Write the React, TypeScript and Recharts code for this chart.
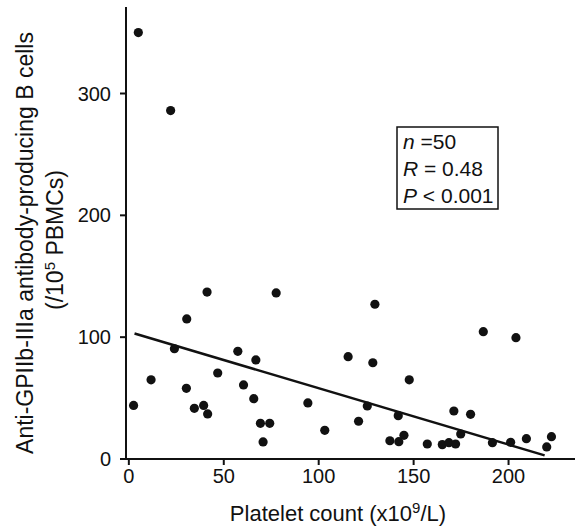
import React from "react";
import { ComposedChart, Scatter, XAxis, YAxis } from "recharts";

// platelet count (x10^9/L) and anti-GPIIb-IIIa B cells per 10^5 PBMCs
const plateletCount = [
  5, 22, 2.5, 11.7, 24, 30.5, 30.3, 34.5, 39.4, 41.5, 41.2, 46.8, 57.4, 60.4,
  66.9, 65.8, 69.3, 74.2, 70.7, 77.6, 94.3, 103.2, 115.5, 129.6, 128.5, 147.7,
  125.6, 121, 141.9, 137.5, 142.2, 144.9, 157.2, 165.1, 168.6, 172.1, 171.2,
  174.8, 180, 186.7, 203.9, 191.5, 201.1, 209.4, 220.1, 222.6,
];
const bCells = [
  350, 286, 44, 65, 90.5, 115, 58, 41.6, 44, 37, 137, 70.6, 88.4, 60.8, 81.3,
  49.5, 29.3, 29.3, 14, 136.3, 46, 23.5, 84, 127, 79, 65, 43.5, 31, 35.6, 15,
  14.2, 19.4, 12.3, 11.8, 13.4, 12.3, 39.4, 20.5, 36.7, 104.5, 99.6, 13.4,
  13.7, 16.7, 9.9, 18.3,
];

// regression line end points
const fitX = [3, 219];
const fitY = [103, 3];

const xTicks = [0, 50, 100, 150, 200];
const yTicks = [0, 100, 200, 300];

const points = plateletCount.map((x, i) => ({ x, y: bCells[i] }));
const fitLine = fitX.map((x, i) => ({ x, y: fitY[i] }));

const font = "'Liberation Sans', Arial, sans-serif";
const ink = "#111";
const tickStyle = { fill: ink, fontSize: 20, fontFamily: font };

const Dot = (props: any) => (
  <circle cx={props.cx} cy={props.cy} r={4.6} fill={ink} />
);

export default function App() {
  return (
    <div style={{ position: "absolute", left: 0, top: 0, width: 575, height: 529, background: "#fff" }}>
      <ComposedChart
        width={575}
        height={529}
        margin={{ top: 7, right: 0, left: 66, bottom: 10 }}
      >
        <XAxis
          type="number"
          dataKey="x"
          domain={[-1.5, 235]}
          ticks={xTicks}
          tick={tickStyle}
          tickSize={6}
          tickMargin={4}
          height={60}
          axisLine={{ stroke: ink, strokeWidth: 2 }}
          tickLine={{ stroke: ink, strokeWidth: 2 }}
          allowDataOverflow
        />
        <YAxis
          type="number"
          dataKey="y"
          domain={[0, 371]}
          ticks={yTicks}
          tick={tickStyle}
          tickSize={6}
          tickMargin={9}
          width={60}
          axisLine={{ stroke: ink, strokeWidth: 2 }}
          tickLine={{ stroke: ink, strokeWidth: 2 }}
          allowDataOverflow
        />
        <Scatter
          data={fitLine}
          line={{ stroke: ink, strokeWidth: 2.5 }}
          shape={() => <g />}
          isAnimationActive={false}
        />
        <Scatter data={points} shape={Dot} isAnimationActive={false} />
      </ComposedChart>

      {/* axis titles and stats box */}
      <svg
        width={575}
        height={529}
        style={{ position: "absolute", left: 0, top: 0, pointerEvents: "none" }}
        fontFamily={font}
        fill={ink}
      >
        <text x={338} y={521} fontSize={22} textAnchor="middle">
          Platelet count (x10<tspan dy={-8} fontSize={15}>9</tspan>
          <tspan dy={8}>/L)</tspan>
        </text>
        <text
          transform="translate(33,243) rotate(-90)"
          fontSize={23}
          textAnchor="middle"
        >
          Anti-GPIIb-IIIa antibody-producing B cells
        </text>
        <text
          transform="translate(63,240) rotate(-90)"
          fontSize={23}
          textAnchor="middle"
        >
          (/10<tspan dy={-8} fontSize={15}>5</tspan>
          <tspan dy={8}> PBMCs)</tspan>
        </text>
        <rect x={397} y={127} width={101} height={82} fill="none" stroke={ink} strokeWidth={1.5} />
        <text x={403} y={149} fontSize={21}>
          <tspan fontStyle="italic">n</tspan> =50
        </text>
        <text x={403} y={176} fontSize={21}>
          <tspan fontStyle="italic">R</tspan> = 0.48
        </text>
        <text x={403} y={203} fontSize={21}>
          <tspan fontStyle="italic">P</tspan> &lt; 0.001
        </text>
      </svg>
    </div>
  );
}
